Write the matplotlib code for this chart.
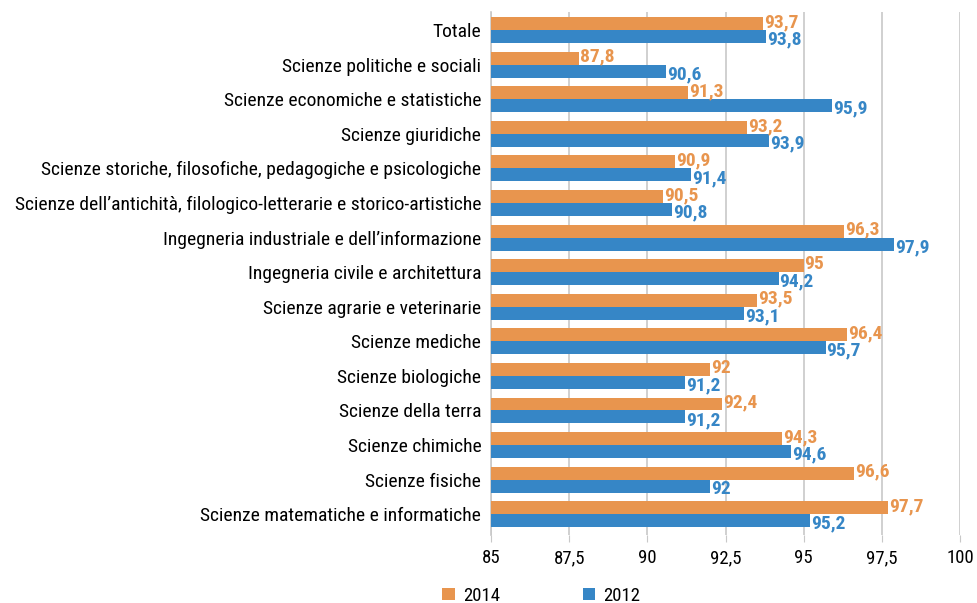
import matplotlib
matplotlib.use("Agg")
import matplotlib.pyplot as plt
import numpy as np

categories = [
    "Totale",
    "Scienze politiche e sociali",
    "Scienze economiche e statistiche",
    "Scienze giuridiche",
    "Scienze storiche, filosofiche, pedagogiche e psicologiche",
    "Scienze dell\u2019antichità, filologico-letterarie e storico-artistiche",
    "Ingegneria industriale e dell\u2019informazione",
    "Ingegneria civile e architettura",
    "Scienze agrarie e veterinarie",
    "Scienze mediche",
    "Scienze biologiche",
    "Scienze della terra",
    "Scienze chimiche",
    "Scienze fisiche",
    "Scienze matematiche e informatiche",
]
values_2014 = [93.7, 87.8, 91.3, 93.2, 90.9, 90.5, 96.3, 95, 93.5, 96.4, 92, 92.4, 94.3, 96.6, 97.7]
values_2012 = [93.8, 90.6, 95.9, 93.9, 91.4, 90.8, 97.9, 94.2, 93.1, 95.7, 91.2, 91.2, 94.6, 92, 95.2]
x_ticks = [85, 87.5, 90, 92.5, 95, 97.5, 100]

plt.rcParams["font.family"] = ["Roboto Condensed", "DejaVu Sans"]

ORANGE = "#E8954E"
BLUE = "#3686C6"

def fmt(v):
    s = f"{v:g}"
    return s.replace(".", ",")

fig = plt.figure(figsize=(9.77, 6.03), dpi=100)
ax = fig.add_axes([0.5026, 0.1128, 0.4800, 0.8672])

y = np.arange(len(categories))
h = 0.375
base = 85
ax.barh(y - h / 2, np.array(values_2014) - base, left=base, height=h, color=ORANGE, label="2014", zorder=3)
ax.barh(y + h / 2, np.array(values_2012) - base, left=base, height=h, color=BLUE, label="2012", zorder=3)

for yi, v in zip(y, values_2014):
    ax.text(v + 0.03, yi - h / 2 - 0.04, fmt(v), color=ORANGE, fontsize=14, fontweight="bold",
            va="center", ha="left", zorder=4)
for yi, v in zip(y, values_2012):
    ax.text(v + 0.03, yi + h / 2 + 0.09, fmt(v), color=BLUE, fontsize=14, fontweight="bold",
            va="center", ha="left", zorder=4)

ax.set_xlim(85, 100)
ax.set_ylim(len(categories) - 0.4, -0.52)
ax.set_yticks(y)
ax.set_yticklabels(categories, fontsize=14)
ax.set_xticks(x_ticks)
ax.set_xticklabels([fmt(t) for t in x_ticks], fontsize=13.5)
ax.tick_params(axis="y", length=0, pad=7)
ax.tick_params(axis="x", length=5, color="#C8C8C8", pad=5)
ax.grid(axis="x", color="#C8C8C8", linewidth=1.2, zorder=0)
for s in ["top", "right", "bottom"]:
    ax.spines[s].set_visible(False)
ax.spines["left"].set_color("#C8C8C8")
ax.spines["left"].set_linewidth(1.2)

handles, labels = ax.get_legend_handles_labels()
fig.legend(handles, labels, loc="center", bbox_to_anchor=(0.554, 0.012), ncol=2, frameon=False,
           fontsize=13.5, handlelength=0.65, handleheight=0.65, columnspacing=4.4, handletextpad=0.45)

fig.savefig("out.png", dpi=100)
